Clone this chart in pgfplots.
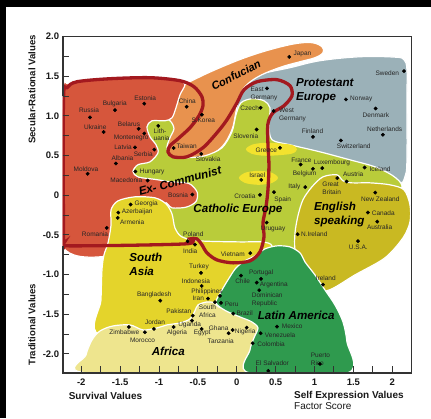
\documentclass[border=0pt]{standalone}
\usepackage{fontspec}
\setmainfont{Liberation Sans}
\usepackage{pgfplots}
\pgfplotsset{compat=1.18}
\definecolor{cProt}{HTML}{9BB1B8}
\definecolor{cConf}{HTML}{E8924E}
\definecolor{cComm}{HTML}{D6563C}
\definecolor{cCath}{HTML}{B9CC3A}
\definecolor{cEng}{HTML}{C9B922}
\definecolor{cSAsia}{HTML}{E4D42B}
\definecolor{cAfr}{HTML}{EEE58E}
\definecolor{cLat}{HTML}{2F9A4E}
\definecolor{cEll}{HTML}{F2E22E}
\definecolor{cLine}{HTML}{A3191F}
\definecolor{cAxis}{HTML}{333333}
\begin{document}
\begin{tikzpicture}[x=1pt,y=1pt,
  lbl/.style={font=\fontsize{6.5}{7.6}\selectfont, text=black!85, inner sep=0pt, align=center},
  lbll/.style={font=\fontsize{6.5}{7.6}\selectfont, text=black!85, inner sep=0pt, align=left, anchor=west},
  reg/.style={font=\fontsize{11.6}{14}\selectfont\bfseries\itshape, inner sep=0pt, align=left}]
\fill[white] (0,0) rectangle (431,418);
\fill[black] (0,411) rectangle (431,418);
\fill[black] (0,0) rectangle (6,418);
\begin{axis}[
  at={(62.7pt,45.3pt)}, anchor=south west,
  scale only axis, width=348.6pt, height=336.2pt,
  xmin=-2.239, xmax=2.245, ymin=-2.236, ymax=2.0,
  axis on top,
  axis line style={draw=none},
  xtick={-2,-1.5,...,2}, ytick={-2,-1.5,...,2},
  xticklabels={-2,-1.5,-1,-0.5,0,0.5,1,1.5,2},
  yticklabels={-2.0,-1.5,-1.0,-0.5,0,0.5,1.0,1.5,2.0},
  minor tick num=1,
  tick align=inside,
  xtick pos=bottom, ytick pos=left,
  major tick length=6.5pt, minor tick length=6.5pt,
  tick style={line width=1pt, cAxis},
  tick label style={font=\fontsize{9.5}{10}\selectfont\bfseries, text=black!90},
  xticklabel style={yshift=-2.5pt},
]
% Protestant Europe
\addplot[fill=cProt, draw=white, line width=1.2pt, smooth cycle, tension=0.6] coordinates {
(-0.087,1.203) (0.041,1.430) (0.324,1.531) (0.684,1.607) (1.070,1.695) (1.585,1.745)
(2.035,1.740) (2.151,1.708) (2.189,1.582) (2.189,1.203) (2.189,0.446) (2.163,0.232)
(2.073,0.131) (1.713,0.068) (0.813,0.194) (0.170,0.383) (-0.087,0.825)};
% Confucian
\addplot[fill=cConf, draw=white, line width=1.2pt, smooth cycle, tension=0.6] coordinates {
(-0.692,1.380) (-0.473,1.493) (-0.216,1.607) (0.105,1.733) (0.427,1.834) (0.749,1.909)
(0.967,1.922) (1.096,1.871) (1.109,1.796) (1.006,1.733) (0.813,1.682) (0.581,1.619)
(0.324,1.519) (0.144,1.405) (0.041,1.266) (-0.010,1.052) (-0.062,0.825) (-0.190,0.610)
(-0.409,0.472) (-0.666,0.421) (-0.885,0.446) (-0.923,0.598) (-0.885,0.888) (-0.821,1.140)
(-0.756,1.291)};
% Catholic Europe
\addplot[fill=cCath, draw=white, line width=1.2pt, smooth cycle, tension=0.5] coordinates {
(-0.988,0.976) (-0.859,0.938) (-0.808,0.838) (-0.859,0.724) (-0.898,0.598) (-0.833,0.484)
(-0.653,0.472) (-0.409,0.497) (-0.190,0.598) (-0.062,0.800) (-0.010,1.014) (0.054,1.165)
(0.195,1.216) (0.350,1.190) (0.427,1.102) (0.414,0.888) (0.453,0.699) (0.684,0.636)
(1.070,0.547) (1.456,0.446) (1.778,0.358) (2.009,0.245) (2.125,0.119) (2.035,-0.058)
(1.713,-0.310) (1.070,-0.625) (0.684,-0.689) (0.170,-0.714) (-0.473,-0.689) (-1.181,-0.625)
(-1.480,-0.058) (-1.480,0.572) (-1.300,0.900)};
% Ex-Communist
\addplot[fill=cComm, draw=white, line width=1.2pt, smooth cycle, tension=0.5] coordinates {
(-2.235,1.266) (-2.171,1.405) (-2.017,1.456) (-1.373,1.481) (-0.923,1.481) (-0.730,1.443)
(-0.666,1.392) (-0.730,1.266) (-0.782,1.102) (-0.833,0.976) (-0.923,0.938) (-1.091,0.938)
(-1.155,0.863) (-1.116,0.736) (-1.039,0.636) (-1.013,0.535) (-1.116,0.421) (-1.270,0.385)
(-1.335,0.300) (-1.270,0.230) (-1.052,0.200) (-0.859,0.170) (-0.620,0.150) (-0.510,0.040)
(-0.525,-0.080) (-0.650,-0.150) (-0.833,-0.159) (-0.923,-0.096) (-0.988,-0.310)
(-1.116,-0.651) (-2.235,-0.651)};
% English speaking
\addplot[fill=cEng, draw=white, line width=1.2pt, smooth cycle, tension=0.5] coordinates {
(0.967,0.106) (1.109,0.232) (1.289,0.257) (1.366,0.182) (1.482,0.156) (1.713,0.156)
(1.971,0.131) (2.151,0.068) (2.228,-0.121) (2.228,-0.335) (2.138,-0.537) (1.906,-0.789)
(1.520,-1.004) (1.199,-1.190) (0.967,-1.210) (0.813,-0.941) (0.749,-0.689) (0.749,-0.474)
(0.787,-0.260) (0.851,-0.058)};
% South Asia
\addplot[fill=cSAsia, draw=white, line width=1.2pt, smooth cycle, tension=0.5] coordinates {
(-1.656,-0.600) (-1.617,-0.373) (-1.617,-0.184) (-1.528,-0.071) (-1.309,-0.020) (-1.052,-0.033)
(-0.911,-0.108) (-0.833,-0.235) (-0.795,-0.411) (-0.705,-0.525) (-0.473,-0.575) (0.041,-0.588)
(0.324,-0.588) (0.453,-0.638) (0.401,-0.840) (0.170,-1.130) (-0.152,-1.508) (-0.473,-1.760)
(-1.759,-1.760) (-1.746,-1.319) (-1.734,-0.941) (-1.708,-0.752)};
% Africa
\addplot[fill=cAfr, draw=white, line width=1.2pt, smooth cycle, tension=0.5] coordinates {
(-1.952,-2.236) (-1.939,-2.013) (-1.862,-1.823) (-1.759,-1.710) (-1.592,-1.647) (-1.373,-1.634)
(-1.206,-1.697) (-1.026,-1.672) (-0.898,-1.634) (-0.730,-1.609) (-0.602,-1.558) (-0.538,-1.457)
(-0.499,-1.382) (-0.383,-1.344) (-0.280,-1.357) (-0.190,-1.420) (0.298,-1.445) (0.298,-2.236)};
% Latin America
\addplot[fill=cLat, draw=white, line width=1.2pt, smooth cycle, tension=0.5] coordinates {
(-0.268,-1.357) (-0.203,-1.216) (-0.113,-1.067) (-0.010,-0.916) (0.105,-0.827) (0.234,-0.764)
(0.363,-0.676) (0.517,-0.638) (0.684,-0.651) (0.813,-0.726) (0.877,-0.840) (1.006,-1.004)
(1.134,-1.193) (1.263,-1.382) (1.366,-1.596) (1.417,-1.848) (1.430,-2.236) (0.157,-2.236)
(0.170,-1.950) (0.221,-1.798) (0.273,-1.672) (0.195,-1.596) (0.041,-1.533) (-0.139,-1.457)};
% Greece and Israel
\addplot[fill=cEll, draw=none, smooth cycle] coordinates {
(0.775,0.579) (0.698,0.637) (0.382,0.661) (0.195,0.637) (0.118,0.579) (0.195,0.521) (0.382,0.497) (0.698,0.521)};
\addplot[fill=cEll, draw=none, smooth cycle] coordinates {
(0.530,0.219) (0.457,0.282) (0.279,0.308) (0.102,0.282) (0.028,0.219) (0.102,0.156) (0.279,0.131) (0.457,0.156)};
% Ex-communist outline
\addplot[draw=cLine, line width=3.3pt, smooth cycle, tension=0.5] coordinates {
(-2.229,-0.562) (-2.229,1.203) (-2.184,1.354) (-2.055,1.430) (-1.630,1.468) (-1.116,1.481)
(-0.730,1.443) (-0.550,1.367) (-0.448,1.241) (-0.435,1.127) (-0.486,1.001) (-0.602,0.850)
(-0.756,0.711) (-0.859,0.623) (-0.885,0.547) (-0.821,0.484) (-0.640,0.484) (-0.435,0.598)
(-0.255,0.787) (-0.126,0.951) (0.003,1.165) (0.093,1.329) (0.260,1.430) (0.517,1.456)
(0.684,1.380) (0.710,1.253) (0.607,1.127) (0.466,1.039) (0.401,0.900) (0.401,0.636)
(0.414,0.383) (0.401,0.068) (0.376,-0.146) (0.337,-0.348) (0.350,-0.525) (0.298,-0.714)
(0.170,-0.827) (-0.049,-0.852) (-0.255,-0.815) (-0.383,-0.726) (-0.448,-0.625) (-0.512,-0.550)
(-0.602,-0.550) (-0.666,-0.613) (-2.145,-0.638) (-2.222,-0.600)};
% country dots
\addplot[only marks, mark=*, mark size=1.7pt, black] coordinates {
(-1.888,0.980) (-1.566,1.073) (-1.190,1.153) (-0.644,1.115) (-0.448,1.014) (-1.712,0.796)
(-1.262,0.837) (-1.190,0.778) (-1.010,0.875) (-1.309,0.602) (-1.061,0.576) (-0.812,0.594)
(-0.457,0.522) (-1.554,0.400) (-1.918,0.270) (-1.305,0.299) (-1.146,0.185) (-0.572,0.009)
(-1.365,-0.117) (-1.524,-0.218) (-1.532,-0.285) (-1.673,-0.411) (-0.632,-0.579) (-0.538,-0.622)
(-0.460,-0.979) (-0.451,-1.143) (-0.984,-1.328) (-0.370,-1.303) (-0.216,-1.269) (-0.280,-1.348)
(-0.203,-1.357) (-0.567,-1.517) (-0.576,-1.580) (-0.451,-1.685) (-0.812,-1.660) (-1.065,-1.685)
(-1.387,-1.660) (-1.181,-1.726) (-0.053,-1.697) (-0.104,-1.739) (0.127,-1.668) (0.054,-1.013)
(0.311,-1.054) (0.256,-1.101) (0.289,-1.197) (-0.045,-1.492) (0.517,-1.656) (0.307,-1.739)
(0.205,-1.865) (0.405,-2.214) (1.070,-2.126) (0.385,-0.344) (0.783,-0.491) (0.174,-0.730)
(1.687,-0.218) (1.807,-0.332) (1.559,-0.579) (1.109,-1.126) (0.675,1.742) (2.151,1.565)
(0.388,1.346) (1.404,1.207) (0.307,1.102) (0.475,1.061) (1.786,1.093) (0.256,0.828)
(0.980,0.736) (1.880,0.762) (1.340,0.690) (0.556,0.598) (0.822,0.387) (1.100,0.342)
(0.980,0.333) (1.645,0.349) (0.315,0.194) (1.413,0.173) (1.293,0.216) (0.881,0.102)
(0.298,0.005) (0.478,0.039) (1.781,0.034)};
% country labels
\node[lbl] at (axis cs:-1.901,1.073) {Russia};
\node[lbl] at (axis cs:-1.570,1.153) {Bulgaria};
\node[lbl] at (axis cs:-1.178,1.219) {Estonia};
\node[lbl] at (axis cs:-0.637,1.182) {China};
\node[lbl] at (axis cs:-0.431,0.942) {S.Korea};
\node[lbl] at (axis cs:-1.820,0.859) {Ukraine};
\node[lbl] at (axis cs:-1.386,0.892) {Belarus};
\node[lbl] at (axis cs:-1.358,0.724) {Montenegro};
\node[lbll] at (axis cs:-1.071,0.764) {Lith-\\uania};
\node[lbl] at (axis cs:-1.464,0.602) {Latvia};
\node[lbl] at (axis cs:-1.203,0.522) {Serbia};
\node[lbl] at (axis cs:-0.644,0.623) {Taiwan};
\node[lbl] at (axis cs:-0.367,0.455) {Slovakia};
\node[lbl] at (axis cs:-1.470,0.468) {Albania};
\node[lbl] at (axis cs:-1.940,0.329) {Moldova};
\node[lbl] at (axis cs:-1.088,0.295) {Hungary};
\node[lbl] at (axis cs:-1.421,0.190) {Macedonia};
\node[lbl] at (axis cs:-0.754,0.005) {Bosnia};
\node[lbl] at (axis cs:-1.165,-0.108) {Georgia};
\node[lbl] at (axis cs:-1.281,-0.206) {Azerbaijan};
\node[lbl] at (axis cs:-1.345,-0.335) {Armenia};
\node[lbl] at (axis cs:-1.824,-0.487) {Romania};
\node[lbl] at (axis cs:-0.559,-0.487) {Poland};
\node[lbl] at (axis cs:-0.598,-0.705) {India};
\node[lbl] at (axis cs:-0.051,-0.748) {Vietnam};
\node[lbl] at (axis cs:0.466,-0.420) {Uruguay};
\node[lbl] at (axis cs:0.105,-0.016) {Croatia};
\node[lbl] at (axis cs:0.590,-0.058) {Spain};
\node[lbl] at (axis cs:0.264,0.257) {Israel};
\node[lbl] at (axis cs:0.379,0.564) {Greece};
\node[lbl] at (axis cs:-0.486,-0.907) {Turkey};
\node[lbl] at (axis cs:-0.527,-1.079) {Indonesia};
\node[lbl] at (axis cs:-0.383,-1.214) {Philippines};
\node[lbl] at (axis cs:-0.495,-1.303) {Iran};
\node[lbl] at (axis cs:-1.062,-1.260) {Bangladesh};
\node[lbl] at (axis cs:-0.377,-1.458) {South\\Africa};
\node[lbl] at (axis cs:-0.066,-1.373) {Peru};
\node[lbl] at (axis cs:-0.746,-1.467) {Pakistan};
\node[lbl] at (axis cs:0.102,-1.492) {Brazil};
\node[lbl] at (axis cs:-0.606,-1.634) {Uganda};
\node[lbl] at (axis cs:-1.052,-1.600) {Jordan};
\node[lbl] at (axis cs:-1.447,-1.731) {Zimbabwe};
\node[lbl] at (axis cs:-1.213,-1.832) {Morocco};
\node[lbl] at (axis cs:-0.769,-1.739) {Algeria};
\node[lbl] at (axis cs:-0.445,-1.739) {Egypt};
\node[lbl] at (axis cs:-0.233,-1.676) {Ghana};
\node[lbl] at (axis cs:-0.206,-1.836) {Tanzania};
\node[lbl] at (axis cs:0.109,-1.723) {Nigeria};
\node[lbl] at (axis cs:0.076,-1.088) {Chile};
\node[lbl] at (axis cs:0.314,-0.975) {Portugal};
\node[lbl] at (axis cs:0.476,-1.130) {Argentina};
\node[lbll] at (axis cs:0.192,-1.315) {Dominican\\Republic};
\node[lbl] at (axis cs:0.713,-1.656) {Mexico};
\node[lbl] at (axis cs:0.558,-1.764) {Venezuela};
\node[lbl] at (axis cs:0.442,-1.874) {Colombia};
\node[lbl] at (axis cs:0.457,-2.117) {El Salvador};
\node[lbll] at (axis cs:0.950,-2.066) {Puerto\\Rico};
\node[lbl] at (axis cs:0.996,-0.496) {N.Ireland};
\node[lbl] at (axis cs:1.884,-0.226) {Canada};
\node[lbl] at (axis cs:1.838,-0.407) {Australia};
\node[lbl] at (axis cs:1.563,-0.654) {U.S.A.};
\node[lbl] at (axis cs:1.145,-1.050) {Ireland};
\node[lbl] at (axis cs:0.845,1.779) {Japan};
\node[lbl] at (axis cs:1.936,1.540) {Sweden};
\node[lbll] at (axis cs:0.175,1.275) {East\\Germany};
\node[lbl] at (axis cs:1.601,1.216) {Norway};
\node[lbl] at (axis cs:0.166,1.093) {Czech};
\node[lbll] at (axis cs:0.543,1.008) {West\\Germany};
\node[lbl] at (axis cs:1.790,1.010) {Denmark};
\node[lbl] at (axis cs:0.116,0.749) {Slovenia};
\node[lbl] at (axis cs:0.974,0.803) {Finland};
\node[lbl] at (axis cs:1.902,0.834) {Netherlands};
\node[lbl] at (axis cs:1.505,0.614) {Switzerland};
\node[lbl] at (axis cs:0.832,0.443) {France};
\node[lbl] at (axis cs:1.224,0.405) {Luxembourg};
\node[lbl] at (axis cs:0.873,0.266) {Belgium};
\node[lbl] at (axis cs:1.844,0.329) {Iceland};
\node[lbl] at (axis cs:1.498,0.266) {Austria};
\node[lbll] at (axis cs:1.100,0.087) {Great\\Britain};
\node[lbl] at (axis cs:0.742,0.106) {Italy};
\node[lbl] at (axis cs:1.846,-0.054) {New Zealand};
% region labels
\node[reg, anchor=west] at (axis cs:0.761,1.318) {Protestant\\Europe};
\node[reg, anchor=west] at (axis cs:0.993,-0.241) {English\\speaking};
\node[reg] at (axis cs:0.015,-0.184) {Catholic Europe};
\node[reg, rotate=15] at (axis cs:-0.730,0.182) {Ex- Communist};
\node[reg, anchor=west] at (axis cs:-1.383,-0.869) {South\\Asia};
\node[reg] at (axis cs:-0.881,-1.971) {Africa};
\node[reg] at (axis cs:0.764,-1.517) {Latin America};
\node[reg, rotate=27, font=\fontsize{11}{13}\selectfont\bfseries\itshape] at (axis cs:-0.010,1.515) {Confucian};
\end{axis}
% frame
\draw[line width=1.2pt, cAxis] (62.7,381.5) -- (411.3,381.5) -- (411.3,45.3);
\draw[line width=2.2pt, cAxis] (62.7,382.1) -- (62.7,322);
\draw[line width=2.2pt, cAxis] (62.7,172) -- (62.7,45.3) -- (412,45.3);
% axis titles
\node[rotate=90, font=\fontsize{9.6}{10}\selectfont\bfseries, text=black!90] at (32,328.5) {Secular-Rational Values};
\node[rotate=90, font=\fontsize{9.6}{10}\selectfont\bfseries, text=black!90] at (32,93.5) {Traditional Values};
\node[font=\fontsize{10}{11}\selectfont\bfseries, text=black!90] at (105.5,22) {Survival Values};
\node[anchor=west, inner sep=0pt, font=\fontsize{10}{11}\selectfont\bfseries, text=black!90] at (294,22) {Self Expression Values};
\node[anchor=west, inner sep=0pt, font=\fontsize{10}{11}\selectfont, text=black!90] at (294,11.5) {Factor Score};
\end{tikzpicture}
\end{document}
